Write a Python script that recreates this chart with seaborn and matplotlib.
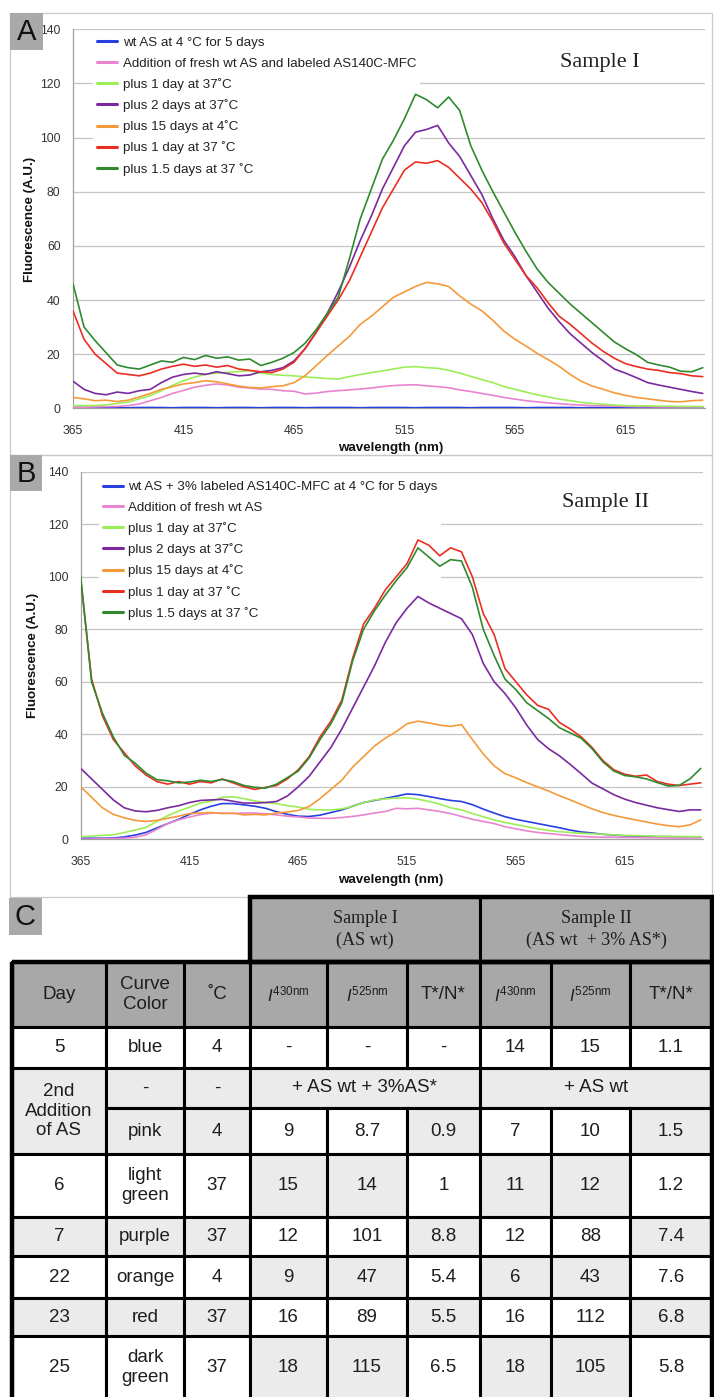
import matplotlib
matplotlib.use('Agg')

import matplotlib.pyplot as plt
from matplotlib.patches import Rectangle
import seaborn as sns
import pandas as pd

W, H = 714, 1397

# ---- spectra data (5 nm steps) ----
wavelength = [365, 370, 375, 380, 385, 390, 395, 400, 405, 410,
              415, 420, 425, 430, 435, 440, 445, 450, 455, 460,
              465, 470, 475, 480, 485, 490, 495, 500, 505, 510,
              515, 520, 525, 530, 535, 540, 545, 550, 555, 560,
              565, 570, 575, 580, 585, 590, 595, 600, 605, 610,
              615, 620, 625, 630, 635, 640, 645, 650]

a_blue = [0.3, 0.3, 0.2, 0.3, 0.3, 0.2, 0.3, 0.3, 0.3, 0.2,
          0.3, 0.3, 0.3, 0.2, 0.3, 0.3, 0.3, 0.2, 0.3, 0.3,
          0.3, 0.2, 0.3, 0.3, 0.3, 0.3, 0.2, 0.3, 0.3, 0.3,
          0.3, 0.2, 0.3, 0.3, 0.3, 0.3, 0.2, 0.3, 0.3, 0.3,
          0.3, 0.2, 0.3, 0.3, 0.3, 0.3, 0.2, 0.3, 0.3, 0.3,
          0.3, 0.2, 0.3, 0.3, 0.3, 0.3, 0.2, 0.3]
a_pink = [0.4, 0.4, 0.5, 0.6, 0.7, 1.0, 1.6, 2.8, 4.0, 5.5,
          6.6, 7.8, 8.5, 9.0, 8.6, 7.8, 7.5, 7.1, 7.0, 6.5,
          6.3, 5.3, 5.6, 6.2, 6.5, 6.8, 7.1, 7.5, 8.0, 8.4,
          8.6, 8.7, 8.3, 8.0, 7.6, 6.8, 6.2, 5.5, 4.8, 4.0,
          3.4, 2.8, 2.4, 2.0, 1.7, 1.4, 1.2, 1.0, 0.9, 0.8,
          0.7, 0.6, 0.6, 0.5, 0.5, 0.5, 0.5, 0.5]
a_lgreen = [1.0, 1.0, 1.0, 1.3, 1.8, 2.3, 3.5, 4.7, 6.5, 8.5,
            10.2, 11.5, 12.6, 13.0, 13.3, 13.6, 13.9, 13.0, 12.5, 12.2,
            12.0, 11.6, 11.3, 11.0, 10.8, 11.7, 12.5, 13.2, 13.8, 14.5,
            15.2, 15.4, 15.0, 14.8, 14.0, 13.0, 11.8, 10.6, 9.5, 8.0,
            7.0, 6.0, 5.0, 4.2, 3.4, 2.8, 2.2, 1.8, 1.5, 1.2,
            1.0, 0.9, 0.9, 0.8, 0.8, 0.7, 0.7, 0.6]
a_purple = [10.0, 7.0, 5.5, 5.0, 6.0, 5.5, 6.5, 7.0, 9.5, 11.5,
            12.5, 13.0, 12.5, 13.5, 12.8, 12.0, 12.3, 13.5, 14.0, 15.0,
            17.5, 22.0, 28.0, 35.0, 43.0, 52.0, 62.0, 71.0, 81.0, 89.0,
            97.0, 102.0, 103.0, 104.5, 98.0, 93.0, 86.0, 79.0, 70.0, 62.0,
            56.0, 49.0, 43.0, 37.0, 32.0, 27.5, 24.0, 20.5, 17.5, 14.5,
            13.0, 11.3, 9.5, 8.6, 7.8, 7.0, 6.2, 5.5]
a_orange = [4.0, 3.5, 2.8, 3.0, 2.5, 3.0, 4.2, 5.5, 7.0, 8.0,
            9.0, 9.5, 10.2, 9.8, 9.0, 8.2, 7.7, 7.5, 8.0, 8.3,
            9.5, 12.0, 15.7, 19.5, 23.0, 26.5, 31.0, 34.0, 37.5, 41.0,
            43.0, 45.0, 46.5, 46.0, 45.0, 41.5, 38.5, 36.0, 32.5, 28.5,
            25.5, 23.0, 20.3, 18.0, 15.5, 12.5, 10.0, 8.2, 7.0, 5.7,
            4.8, 4.0, 3.5, 3.0, 2.5, 2.4, 2.8, 3.0]
a_red = [36.0, 25.5, 20.0, 16.5, 13.0, 12.5, 12.0, 13.0, 14.5, 15.5,
         16.3, 15.5, 16.0, 15.2, 15.8, 14.5, 14.0, 13.5, 13.2, 14.5,
         17.0, 22.0, 28.0, 34.0, 40.0, 47.0, 56.0, 65.0, 74.0, 81.0,
         88.0, 91.0, 90.5, 91.5, 89.0, 85.0, 81.0, 76.0, 69.0, 61.0,
         55.0, 49.0, 44.5, 39.0, 34.0, 31.0, 27.5, 24.0, 21.0, 18.5,
         16.5, 15.4, 14.5, 14.0, 13.2, 12.8, 12.0, 11.7]
a_dgreen = [46.0, 30.0, 25.0, 20.5, 16.0, 15.0, 14.5, 16.0, 17.5, 17.0,
            18.8, 18.0, 19.5, 18.5, 19.0, 17.8, 18.2, 15.8, 17.0, 18.5,
            20.6, 24.0, 29.0, 35.0, 41.0, 55.0, 70.0, 81.0, 92.0, 99.0,
            107.0, 116.0, 114.0, 111.0, 115.0, 110.0, 97.0, 88.0, 80.0, 72.5,
            65.0, 58.0, 51.5, 46.5, 42.5, 38.5, 35.0, 31.5, 28.0, 24.5,
            22.0, 19.8, 17.0, 16.0, 15.2, 13.7, 13.5, 15.0]

b_blue = [0.4, 0.4, 0.4, 0.5, 0.9, 1.6, 2.6, 4.3, 6.0, 7.6,
          9.5, 11.2, 12.6, 13.6, 13.6, 13.1, 12.6, 11.8, 10.5, 9.5,
          8.8, 8.7, 9.2, 10.2, 11.2, 12.6, 14.0, 14.8, 15.6, 16.4,
          17.3, 17.0, 16.3, 15.5, 14.8, 14.4, 13.2, 11.5, 10.0, 8.6,
          7.6, 6.8, 6.0, 5.2, 4.4, 3.5, 2.8, 2.4, 1.9, 1.6,
          1.3, 1.2, 1.1, 1.0, 1.0, 0.9, 0.9, 0.8]
b_pink = [0.0, 0.1, 0.2, 0.3, 0.4, 0.8, 1.7, 3.8, 6.0, 7.4,
          8.5, 9.4, 10.0, 10.0, 9.8, 10.0, 10.0, 9.7, 9.3, 8.8,
          8.5, 8.1, 8.0, 8.0, 8.3, 8.7, 9.3, 10.0, 10.6, 11.8,
          11.6, 11.8, 11.2, 10.6, 9.8, 8.7, 7.6, 6.8, 6.0, 4.8,
          4.0, 3.2, 2.6, 2.2, 1.8, 1.4, 1.1, 0.9, 0.8, 0.8,
          0.7, 0.7, 0.6, 0.6, 0.5, 0.5, 0.5, 0.5]
b_lgreen = [1.0, 1.2, 1.5, 1.7, 2.6, 3.5, 4.5, 6.8, 9.0, 10.8,
            12.2, 13.8, 14.5, 16.0, 16.2, 15.5, 14.6, 14.0, 13.6, 12.8,
            12.3, 11.4, 11.2, 11.2, 11.6, 12.5, 14.0, 15.0, 15.4, 15.7,
            15.8, 15.3, 14.4, 13.4, 12.0, 11.2, 9.8, 8.6, 7.4, 6.4,
            5.6, 4.8, 4.0, 3.4, 2.9, 2.6, 2.3, 2.1, 1.9, 1.7,
            1.5, 1.4, 1.3, 1.2, 1.1, 1.1, 1.0, 1.0]
b_purple = [27.0, 23.0, 19.0, 15.0, 12.0, 10.8, 10.5, 11.0, 12.0, 12.8,
            14.0, 14.8, 15.0, 15.2, 14.5, 13.8, 13.8, 14.0, 14.4, 16.5,
            20.0, 24.0, 29.5, 35.0, 42.0, 50.0, 58.0, 66.0, 75.0, 82.5,
            88.0, 92.5, 90.0, 88.0, 86.0, 84.0, 78.0, 67.0, 60.0, 55.5,
            50.0, 43.5, 38.0, 34.5, 31.8, 28.5, 25.0, 21.4, 19.2, 17.0,
            15.3, 14.0, 13.0, 12.0, 11.3, 10.6, 11.2, 11.2]
b_orange = [20.0, 16.0, 12.0, 9.5, 8.2, 7.2, 6.8, 7.2, 8.0, 8.8,
            9.8, 10.0, 10.2, 9.8, 10.0, 9.3, 9.5, 9.3, 10.0, 10.4,
            11.0, 12.5, 15.5, 19.0, 22.5, 27.5, 31.5, 35.5, 38.5, 41.0,
            44.0, 45.0, 44.3, 43.5, 43.0, 43.7, 38.0, 32.5, 28.0, 25.0,
            23.4, 21.6, 20.0, 18.4, 16.6, 15.0, 13.3, 11.6, 10.2, 9.1,
            8.2, 7.4, 6.6, 5.8, 5.2, 4.8, 5.5, 7.4]
b_red = [99.0, 61.0, 47.0, 38.0, 33.0, 28.0, 24.5, 22.0, 21.0, 22.0,
         21.0, 22.0, 21.5, 23.0, 21.5, 20.0, 19.0, 19.8, 20.5, 23.0,
         26.5, 31.5, 39.0, 45.0, 53.0, 69.0, 82.0, 88.0, 95.0, 100.0,
         105.0, 114.0, 112.0, 108.0, 111.0, 109.5, 100.0, 86.0, 78.0, 65.0,
         60.0, 55.0, 51.0, 49.5, 44.5, 42.0, 39.0, 35.0, 30.0, 26.5,
         24.8, 24.0, 24.5, 22.0, 21.0, 20.5, 21.0, 21.5]
b_dgreen = [100.0, 60.0, 48.0, 39.0, 32.0, 29.0, 25.2, 22.7, 22.3, 21.5,
            21.8, 22.5, 22.0, 22.8, 22.0, 20.5, 19.8, 19.5, 21.0, 23.5,
            26.0, 31.0, 38.0, 44.0, 52.0, 68.0, 80.0, 87.0, 93.0, 98.5,
            103.5, 111.0, 107.5, 104.0, 106.5, 106.0, 96.0, 80.0, 70.0, 61.0,
            57.0, 52.0, 49.0, 46.0, 42.5, 40.5, 38.5, 34.5, 29.5, 26.0,
            24.3, 23.8, 23.0, 21.6, 20.3, 20.5, 23.0, 27.0]

labels_a = ['wt AS at 4 \u00b0C for 5 days',
            'Addition of fresh wt AS and labeled AS140C-MFC',
            'plus 1 day at 37\u02daC', 'plus 2 days at 37\u02daC',
            'plus 15 days at 4\u02daC', 'plus 1 day at 37 \u02daC',
            'plus 1.5 days at 37 \u02daC']
labels_b = ['wt AS + 3% labeled AS140C-MFC at 4 \u00b0C for 5 days',
            'Addition of fresh wt AS',
            'plus 1 day at 37\u02daC', 'plus 2 days at 37\u02daC',
            'plus 15 days at 4\u02daC', 'plus 1 day at 37 \u02daC',
            'plus 1.5 days at 37 \u02daC']
curve_colors = ['#2a3fe0', '#e884d0', '#9cee58', '#7a2a9e',
                '#f49a3a', '#ea2f22', '#2f8a2f']
x_ticks = [365, 415, 465, 515, 565, 615]
y_ticks = [0, 20, 40, 60, 80, 100, 120, 140]

# ---- table data ----
table_days = ['5', '2nd\nAddition\nof AS', '6', '7', '22', '23', '25']
table_colors = ['blue', '-', 'pink', 'light\ngreen', 'purple', 'orange', 'red', 'dark\ngreen']
table_temps = ['4', '-', '4', '37', '37', '4', '37', '37']
s1_i430 = ['-', '9', '15', '12', '9', '16', '18']
s1_i525 = ['-', '8.7', '14', '101', '47', '89', '115']
s1_ratio = ['-', '0.9', '1', '8.8', '5.4', '5.5', '6.5']
s2_i430 = ['14', '7', '11', '12', '6', '16', '18']
s2_i525 = ['15', '10', '12', '88', '43', '112', '105']
s2_ratio = ['1.1', '1.5', '1.2', '7.4', '7.6', '6.8', '5.8']
addition_note = ['+ AS wt + 3%AS*', '+ AS wt']
sample_heads = ['Sample I\n(AS wt)', 'Sample II\n(AS wt  + 3% AS*)']
col_heads = ['Day', 'Curve\nColor', '\u02daC', r'$\mathit{I}^{\mathrm{430nm}}$',
             r'$\mathit{I}^{\mathrm{525nm}}$', 'T*/N*', r'$\mathit{I}^{\mathrm{430nm}}$',
             r'$\mathit{I}^{\mathrm{525nm}}$', 'T*/N*']

sns.set_style('white')
plt.rcParams['font.family'] = ['Liberation Sans', 'DejaVu Sans']
plt.rcParams['mathtext.fontset'] = 'custom'
plt.rcParams['mathtext.rm'] = 'Liberation Sans'
plt.rcParams['mathtext.it'] = 'Liberation Sans:italic'

fig = plt.figure(figsize=(W / 100, H / 100), dpi=100)


def px_rect(left, top, right, bottom):
    return [left / W, 1 - bottom / H, (right - left) / W, (bottom - top) / H]


def spectrum(rect, curves, labels, leg_anchor):
    ax = fig.add_axes(rect)
    parts = [pd.DataFrame({'wavelength': wavelength, 'fluorescence': v, 'curve': lab})
             for lab, v in zip(labels, curves)]
    df = pd.concat(parts, ignore_index=True)
    sns.lineplot(data=df, x='wavelength', y='fluorescence', hue='curve',
                 hue_order=labels, palette=dict(zip(labels, curve_colors)),
                 estimator=None, sort=False, linewidth=1.2, ax=ax, zorder=3)
    ax.set_xlim(365, 651)
    ax.set_ylim(0, 140)
    ax.set_xticks(x_ticks)
    ax.set_yticks(y_ticks)
    ax.set_xlabel('')
    ax.set_ylabel('')
    ax.yaxis.grid(True, color='#c4c4c4', lw=0.9)
    ax.set_axisbelow(True)
    for s in ['top', 'right']:
        ax.spines[s].set_visible(False)
    for s in ['left', 'bottom']:
        ax.spines[s].set_color('#a0a0a0')
        ax.spines[s].set_linewidth(0.9)
    ax.tick_params(labelsize=8.8, labelcolor='#333333', color='#909090',
                   length=4, width=0.8)
    ax.tick_params(axis='x', pad=8)
    ax.tick_params(axis='y', pad=5)
    handles, labs = ax.get_legend_handles_labels()
    leg = ax.legend(handles, labs, loc='upper left', bbox_to_anchor=leg_anchor,
                    fontsize=9.6, frameon=True, facecolor='white', edgecolor='none',
                    framealpha=1, fancybox=False, borderaxespad=0, borderpad=0.3,
                    handlelength=1.5, handletextpad=0.4, labelspacing=0.62)
    # legend sits under the curves, above the gridlines
    leg.set_zorder(2)
    for ln in leg.get_lines():
        ln.set_linewidth(2.2)
    for t in leg.get_texts():
        t.set_color('#222222')
    return ax


spectrum(px_rect(73, 29.3, 705, 408.3),
         [a_blue, a_pink, a_lgreen, a_purple, a_orange, a_red, a_dgreen],
         labels_a, (0.032, 0.991))
spectrum(px_rect(80.7, 471.7, 703, 839.3),
         [b_blue, b_pink, b_lgreen, b_purple, b_orange, b_red, b_dgreen],
         labels_b, (0.029, 0.986))

# overlay in pixel coordinates for frames, labels and the table
ov = fig.add_axes([0, 0, 1, 1])
ov.set_xlim(0, W)
ov.set_ylim(H, 0)
ov.axis('off')

for top in [13, 455]:
    ov.add_patch(Rectangle((10, top), 702, 442, fill=False, edgecolor='#c8c8c8', lw=0.9))
for letter, (x0, y0, w, h) in zip(['A', 'B', 'C'],
                                  [(10, 13, 33, 37), (10, 455, 32, 36), (9, 898, 33, 37)]):
    ov.add_patch(Rectangle((x0, y0), w, h, facecolor='#a9a9a9', edgecolor='none'))
    ov.text(x0 + w / 2, y0 + h / 2 + 0.5, letter, fontsize=21, ha='center', va='center',
            color='#111111')

ov.text(600, 62, 'Sample I', family='Liberation Serif', fontsize=16, ha='center',
        va='center', color='#222222')
ov.text(606, 502, 'Sample II', family='Liberation Serif', fontsize=16, ha='center',
        va='center', color='#222222')
for x, y in [(30, 219), (33, 655.5)]:
    ov.text(x, y, 'Fluorescence (A.U.)', rotation=90, fontsize=9.6, fontweight='bold',
            ha='center', va='center', color='#111111')
for y in [448, 880]:
    ov.text(391, y, 'wavelength (nm)', fontsize=9.6, fontweight='bold',
            ha='center', va='center', color='#111111')

# ---- table ----
cols = [12, 106, 184, 250, 327, 407, 480, 551, 630, 712]
rows = [897, 962, 1027, 1068, 1108, 1154, 1217, 1256, 1298, 1336, 1399]
HDR, LT, WH = '#a8a8a8', '#ebebeb', '#ffffff'
left_fill = [WH, LT, LT, WH, LT, WH, LT, WH]
i_fill = [WH, LT, WH, LT, WH, LT, WH, LT]


def cell(c0, c1, r0, r1, text, fill, size=13.5, family=None, spacing=1.2):
    x0, x1, y0, y1 = cols[c0], cols[c1], rows[r0], rows[r1]
    ov.add_patch(Rectangle((x0, y0), x1 - x0, y1 - y0, facecolor=fill,
                           edgecolor='black', lw=2.2, zorder=2))
    kw = {} if family is None else {'family': family}
    ov.text((x0 + x1) / 2, (y0 + y1) / 2, text, ha='center', va='center',
            fontsize=size, color='#1e1e1e', linespacing=spacing, zorder=3, **kw)


cell(3, 6, 0, 1, sample_heads[0], HDR, size=13, family='Liberation Serif', spacing=1.35)
cell(6, 9, 0, 1, sample_heads[1], HDR, size=13, family='Liberation Serif', spacing=1.35)
for j, t in enumerate(col_heads):
    cell(j, j + 1, 1, 2, t, HDR, size=12 if t.startswith('$') else 13.5)

day_spans = [(0, 1), (1, 3), (3, 4), (4, 5), (5, 6), (6, 7), (7, 8)]
for (r0, r1), d in zip(day_spans, table_days):
    cell(0, 1, r0 + 2, r1 + 2, d, left_fill[r0])
for r in range(8):
    cell(1, 2, r + 2, r + 3, table_colors[r], left_fill[r])
    cell(2, 3, r + 2, r + 3, table_temps[r], left_fill[r])

cell(3, 6, 3, 4, addition_note[0], LT)
cell(6, 9, 3, 4, addition_note[1], LT)
num_rows = [0, 2, 3, 4, 5, 6, 7]
for k, r in enumerate(num_rows):
    vals = [s1_i430[k], s1_i525[k], s1_ratio[k], s2_i430[k], s2_i525[k], s2_ratio[k]]
    fills = [i_fill[r], i_fill[r], left_fill[r]] * 2
    for j, (v, f) in enumerate(zip(vals, fills)):
        cell(3 + j, 4 + j, r + 2, r + 3, v, f)

ov.add_patch(Rectangle((cols[0], rows[1]), cols[-1] - cols[0], rows[-1] - rows[1],
                       fill=False, edgecolor='black', lw=3.2, zorder=4))
ov.add_patch(Rectangle((cols[3], rows[0]), cols[-1] - cols[3], rows[1] - rows[0],
                       fill=False, edgecolor='black', lw=3.2, zorder=4))

fig.savefig('out.png', dpi=100)
